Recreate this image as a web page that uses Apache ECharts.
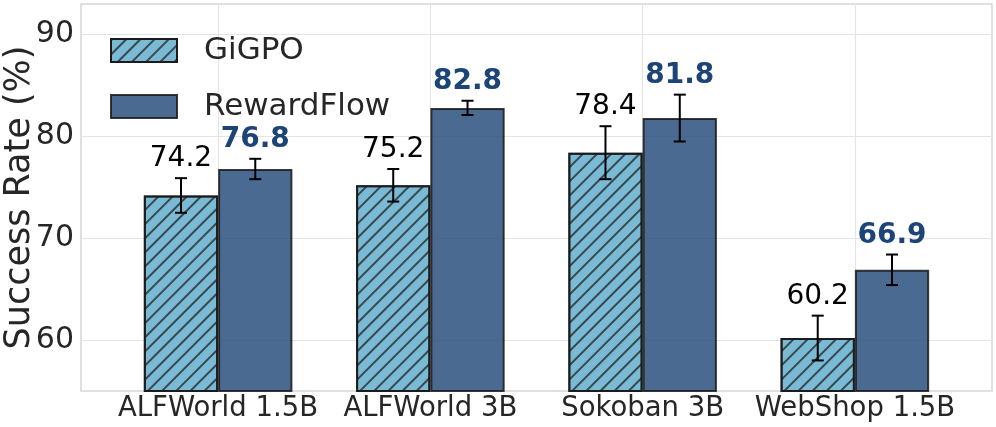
<!DOCTYPE html>
<html>
<head>
<meta charset="utf-8">
<script src="https://cdn.jsdelivr.net/npm/echarts@6/dist/echarts.min.js"></script>
<style>
  html, body { margin: 0; padding: 0; background: #fff; }
  #chart { width: 996px; height: 427px; }
</style>
</head>
<body>
<div id="chart"></div>
<script>
const categories = ["ALFWorld 1.5B", "ALFWorld 3B", "Sokoban 3B", "WebShop 1.5B"];
const gigpo = [74.2, 75.2, 78.4, 60.2];
const gigpoErr = [1.7, 1.6, 2.6, 2.2];
const rewardflow = [76.8, 82.8, 81.8, 66.9];
const rewardflowErr = [1.0, 0.7, 2.3, 1.5];
const yTicks = [60, 70, 80, 90];

const chart = echarts.init(document.getElementById("chart"), null, { renderer: "canvas" });

// error bars + value label, offset to left (-1) or right (+1) bar
function errorSeries(name, vals, errs, side, labelStyle) {
  return {
    type: "custom",
    name: name + "-err",
    xAxisIndex: 2,
    yAxisIndex: 2,
    z: 5,
    data: vals.map((v, i) => [i, v, errs[i]]),
    encode: { x: 0, y: 1 },
    renderItem: function (params, api) {
      const i = api.value(0), v = api.value(1), e = api.value(2);
      const band = api.size([1, 0])[0];
      const x = api.coord([i, v])[0] + side * band * 0.175;
      const top = api.coord([i, v + e])[1];
      const bot = api.coord([i, v - e])[1];
      const ls = { stroke: "#000", lineWidth: 2 };
      return {
        type: "group",
        children: [
          { type: "line", shape: { x1: x, y1: top, x2: x, y2: bot }, style: ls },
          { type: "line", shape: { x1: x - 6, y1: top, x2: x + 6, y2: top }, style: ls },
          { type: "line", shape: { x1: x - 6, y1: bot, x2: x + 6, y2: bot }, style: ls },
          {
            type: "text",
            style: Object.assign({
              text: v.toFixed(1),
              x: x,
              y: top - 5,
              align: "center",
              verticalAlign: "bottom",
              fontSize: 28,
              fontFamily: "DejaVu Sans"
            }, labelStyle)
          }
        ]
      };
    }
  };
}

const gridBase = { outerBoundsMode: "none", containLabel: false };

const option = {
  animation: false,
  textStyle: { fontFamily: "DejaVu Sans" },
  grid: [
    Object.assign({ left: 81, top: 4, width: 911, height: 387, show: true, borderColor: "#d6d6d6", borderWidth: 1.5 }, gridBase),
    Object.assign({ left: 81, top: 34, width: 911, height: 306 }, gridBase),
    Object.assign({ left: 112, top: 4, width: 849, height: 387 }, gridBase),
    Object.assign({ left: 218, top: 4, width: 637, height: 387 }, gridBase)
  ],
  xAxis: [
    { gridIndex: 0, type: "category", data: categories, show: false },
    { gridIndex: 1, type: "category", data: categories, show: false },
    { gridIndex: 2, type: "category", data: categories, show: false },
    {
      gridIndex: 3, type: "category", data: categories, boundaryGap: false,
      axisLine: { show: false }, axisTick: { show: false },
      axisLabel: { interval: 0, fontSize: 27.5, color: "#262626", margin: 4 },
      splitLine: { show: true, interval: 0, lineStyle: { color: "#e4e4e4", width: 1.2 } }
    }
  ],
  yAxis: [
    {
      gridIndex: 0, type: "value", min: 55, max: 93,
      axisLine: { show: false }, axisTick: { show: false },
      axisLabel: { show: false }, splitLine: { show: false },
      name: "Success Rate (%)", nameLocation: "middle", nameGap: 44,
      nameTextStyle: { fontSize: 35, color: "#262626" }
    },
    {
      gridIndex: 1, type: "value", min: yTicks[0], max: yTicks[yTicks.length - 1], interval: 10,
      axisLine: { show: false }, axisTick: { show: false },
      axisLabel: { fontSize: 30, color: "#262626", margin: 7 },
      splitLine: { lineStyle: { color: "#e4e4e4", width: 1.2 } }
    },
    { gridIndex: 2, type: "value", min: 55, max: 93, show: false },
    { gridIndex: 3, type: "value", min: 55, max: 93, show: false }
  ],
  legend: {
    orient: "vertical",
    left: 110,
    top: 35,
    padding: 0,
    icon: "rect",
    itemWidth: 66,
    itemHeight: 23,
    itemGap: 25,
    data: ["GiGPO", "RewardFlow"],
    textStyle: { fontSize: 31, color: "#262626", lineHeight: 23, padding: [0, 0, 0, 22] }
  },
  series: [
    {
      name: "GiGPO",
      type: "bar",
      xAxisIndex: 2,
      yAxisIndex: 2,
      barWidth: "35%",
      barGap: "0%",
      data: gigpo,
      itemStyle: {
        color: "rgba(104,176,206,0.88)",
        borderColor: "rgba(25,25,25,0.85)",
        borderWidth: 2,
        decal: {
          symbol: "rect",
          symbolSize: 1,
          color: "rgba(25,25,25,0.7)",
          dashArrayX: [10, 0],
          dashArrayY: [1.2, 7.6],
          rotation: -Math.PI / 4
        }
      }
    },
    {
      name: "RewardFlow",
      type: "bar",
      xAxisIndex: 2,
      yAxisIndex: 2,
      barWidth: "35%",
      barGap: "0%",
      data: rewardflow,
      itemStyle: {
        color: "rgba(43,80,127,0.85)",
        borderColor: "rgba(25,25,25,0.85)",
        borderWidth: 2
      }
    },
    errorSeries("GiGPO", gigpo, gigpoErr, -1, { fill: "#000" }),
    errorSeries("RewardFlow", rewardflow, rewardflowErr, 1, { fill: "#1d4477", fontWeight: "bold" })
  ]
};

chart.setOption(option);
</script>
</body>
</html>
